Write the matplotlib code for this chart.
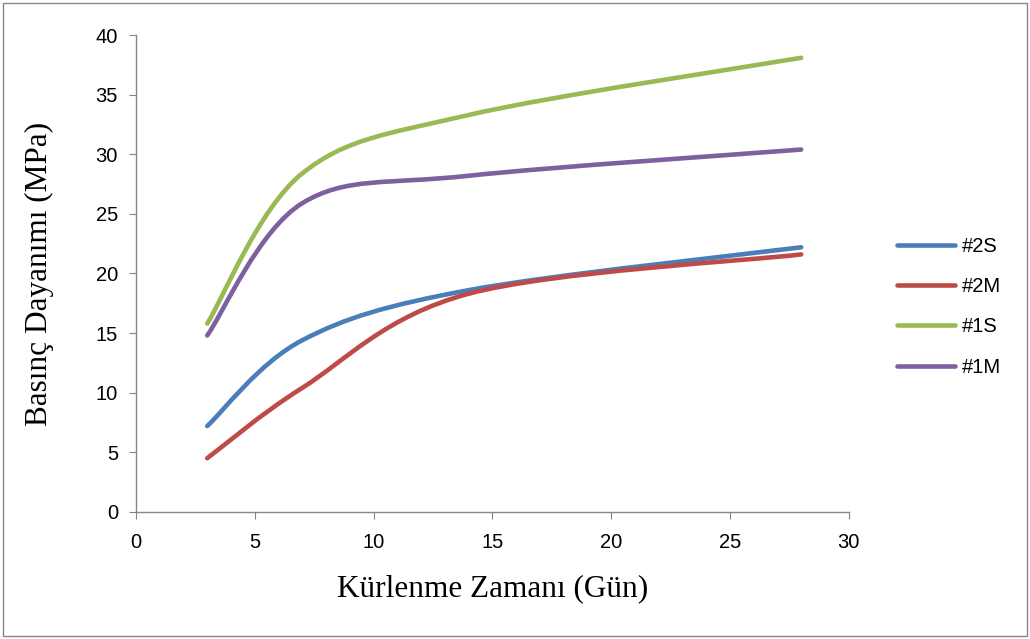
import numpy as np
import matplotlib.pyplot as plt
from matplotlib.path import Path
from matplotlib.patches import PathPatch, Rectangle
from matplotlib.lines import Line2D

days = [3, 7, 14, 28]
s2 = [7.2, 14.4, 18.6, 22.2]
m2 = [4.5, 10.4, 18.3, 21.6]
s1 = [15.8, 28.4, 33.3, 38.1]
m1 = [14.8, 25.9, 28.2, 30.4]

names = ['#2S', '#2M', '#1S', '#1M']
colors = ['#4A7EBB', '#BE4B48', '#98B954', '#7D60A0']


def smooth_path(x, y):
    # excel style smoothed line: bezier with catmull-rom control points
    p = np.column_stack([x, y]).astype(float)
    n = len(p)
    verts = [p[0]]
    codes = [Path.MOVETO]
    for i in range(n - 1):
        p0 = p[i - 1] if i > 0 else p[i]
        p3 = p[i + 2] if i + 2 < n else p[i + 1]
        c1 = p[i] + (p[i + 1] - p0) / 6
        c2 = p[i + 1] - (p3 - p[i]) / 6
        verts += [c1, c2, p[i + 1]]
        codes += [Path.CURVE4] * 3
    return Path(verts, codes)


fig = plt.figure(figsize=(10.3, 6.39), dpi=100)
ax = fig.add_axes([0.132, 0.199, 0.692, 0.746])

handles = []
for ys, c, nm in zip([s2, m2, s1, m1], colors, names):
    patch = PathPatch(smooth_path(days, ys), fill=False, edgecolor=c,
                      lw=3.3, capstyle='round', joinstyle='round')
    ax.add_patch(patch)
    handles.append(Line2D([], [], color=c, lw=3.3, solid_capstyle='round'))

ax.set_xlim(0, 30)
ax.set_ylim(0, 40)
ax.set_xticks(range(0, 31, 5))
ax.set_yticks(range(0, 41, 5))
for s in ['top', 'right']:
    ax.spines[s].set_visible(False)
for s in ['left', 'bottom']:
    ax.spines[s].set_color('#868686')
    ax.spines[s].set_linewidth(1)
ax.tick_params(direction='out', length=5, color='#868686', labelsize=14.5)
ax.tick_params(axis='x', pad=10)
ax.tick_params(axis='y', pad=8)
for t in ax.get_xticklabels() + ax.get_yticklabels():
    t.set_fontfamily('Liberation Sans')

ax.set_xlabel('Kürlenme Zamanı (Gün)', fontfamily='Liberation Serif',
              fontsize=22.5, labelpad=16)
ax.set_ylabel('Basınç Dayanımı (MPa)', fontfamily='Liberation Serif',
              fontsize=22.5, labelpad=30)

leg = ax.legend(handles, names, loc='center left', bbox_to_anchor=(1.042, 0.43),
                frameon=False, prop={'family': 'Liberation Sans', 'size': 14.5},
                handlelength=2.9, handletextpad=0.35, labelspacing=1.05)

fig.patches.append(Rectangle((0.003, 0.005), 0.994, 0.99, transform=fig.transFigure,
                             fill=False, edgecolor='#868686', lw=1))

fig.savefig('out.png', dpi=100)
